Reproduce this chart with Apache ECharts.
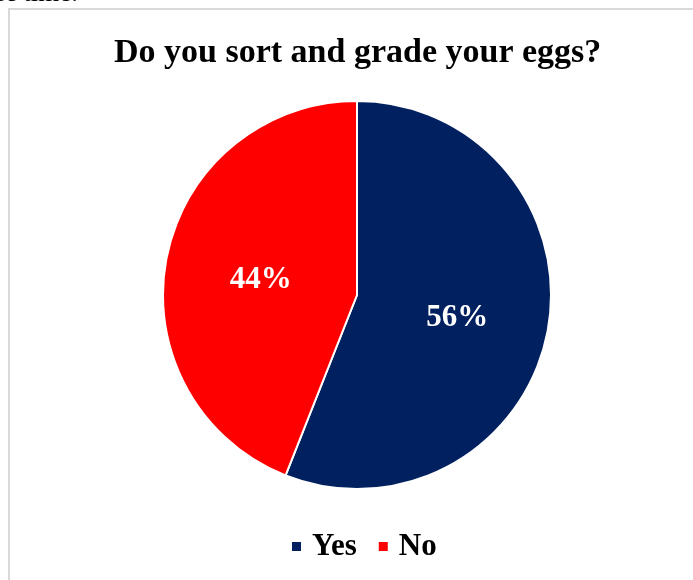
<!DOCTYPE html>
<html>
<head>
<meta charset="utf-8">
<style>
  html, body { margin: 0; padding: 0; background: #ffffff; }
  #chart { width: 693px; height: 580px; }
</style>
<script src="https://cdn.jsdelivr.net/npm/echarts@6/dist/echarts.min.js"></script>
</head>
<body>
<div id="chart"></div>
<script>
// Survey answers and their shares (percent)
const categories = ['Yes', 'No'];
const shares = [56, 44];
const sliceColors = ['#002060', '#FF0000'];
const titleText = 'Do you sort and grade your eggs?';

const serif = '"Liberation Serif", "DejaVu Serif", serif';

const chart = echarts.init(document.getElementById('chart'), null, { renderer: 'canvas' });

chart.setOption({
  backgroundColor: '#ffffff',
  animation: false,
  title: {
    text: titleText,
    left: 114,
    top: 36,
    padding: 0,
    textStyle: {
      fontFamily: serif,
      fontWeight: 'bold',
      fontSize: 34,
      color: '#000000'
    }
  },
  legend: {
    data: categories,
    bottom: 13,
    left: 285,
    icon: 'rect',
    itemWidth: 11,
    itemHeight: 11,
    itemGap: 20,
    textStyle: {
      fontFamily: serif,
      fontWeight: 'bold',
      fontSize: 31,
      color: '#000000',
      padding: [0, 0, 0, 5]
    }
  },
  graphic: [
    {
      // frame around the chart area
      type: 'rect',
      shape: { x: 9, y: 9, width: 720, height: 600 },
      style: { fill: null, stroke: '#d9d9d9', lineWidth: 2 },
      silent: true
    },
    {
      // tail of the preceding paragraph line
      type: 'text',
      left: -6,
      top: -20,
      style: {
        text: 'of time.',
        fontFamily: serif,
        fontSize: 27,
        fill: '#000000'
      },
      silent: true
    }
  ],
  series: [{
    type: 'pie',
    center: [357, 295],
    radius: [0, 194],
    startAngle: 90,
    clockwise: true,
    avoidLabelOverlap: false,
    itemStyle: { borderColor: '#ffffff', borderWidth: 2 },
    label: {
      show: true,
      position: 'inside',
      formatter: '{c}%',
      fontFamily: serif,
      fontWeight: 'bold',
      fontSize: 31,
      color: '#ffffff',
      offset: [2, 4]
    },
    labelLine: { show: false },
    emphasis: { disabled: true },
    data: categories.map((name, i) => ({
      name: name,
      value: shares[i],
      itemStyle: { color: sliceColors[i] }
    }))
  }]
});
</script>
</body>
</html>
